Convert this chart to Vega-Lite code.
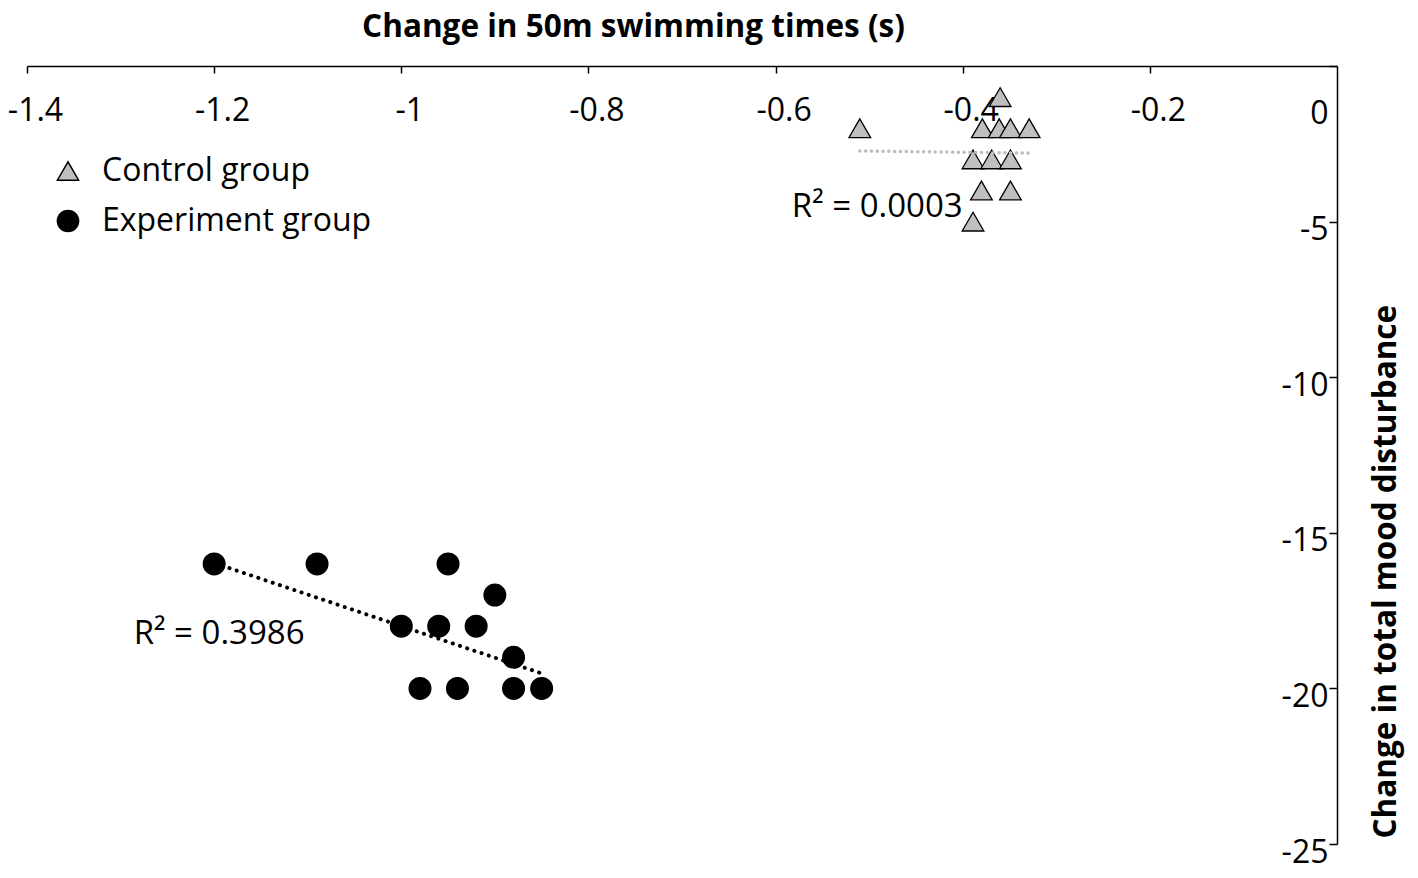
{
  "$schema": "https://vega.github.io/schema/vega-lite/v6.json",
  "description": "Change in 50m swimming times vs change in total mood disturbance, control vs experiment group",
  "width": 1310,
  "height": 778,
  "autosize": "none",
  "padding": {"left": 27, "top": 66, "right": 81, "bottom": 34},
  "background": "white",
  "datasets": {
    "points": [
      {"x": -0.36, "y": -1, "group": "Control group"},
      {"x": -0.51, "y": -2, "group": "Control group"},
      {"x": -0.379, "y": -2, "group": "Control group"},
      {"x": -0.361, "y": -2, "group": "Control group"},
      {"x": -0.349, "y": -2, "group": "Control group"},
      {"x": -0.329, "y": -2, "group": "Control group"},
      {"x": -0.389, "y": -3, "group": "Control group"},
      {"x": -0.369, "y": -3, "group": "Control group"},
      {"x": -0.349, "y": -3, "group": "Control group"},
      {"x": -0.38, "y": -4, "group": "Control group"},
      {"x": -0.349, "y": -4, "group": "Control group"},
      {"x": -0.389, "y": -5, "group": "Control group"},
      {"x": -1.2, "y": -16, "group": "Experiment group"},
      {"x": -1.09, "y": -16, "group": "Experiment group"},
      {"x": -0.95, "y": -16, "group": "Experiment group"},
      {"x": -0.9, "y": -17, "group": "Experiment group"},
      {"x": -1.0, "y": -18, "group": "Experiment group"},
      {"x": -0.96, "y": -18, "group": "Experiment group"},
      {"x": -0.92, "y": -18, "group": "Experiment group"},
      {"x": -0.88, "y": -19, "group": "Experiment group"},
      {"x": -0.98, "y": -20, "group": "Experiment group"},
      {"x": -0.94, "y": -20, "group": "Experiment group"},
      {"x": -0.88, "y": -20, "group": "Experiment group"},
      {"x": -0.85, "y": -20, "group": "Experiment group"}
    ],
    "trend": [
      {"x": -0.51, "y": -2.73, "group": "Control group"},
      {"x": -0.328, "y": -2.8, "group": "Control group"},
      {"x": -1.199, "y": -15.98, "group": "Experiment group"},
      {"x": -0.847, "y": -19.55, "group": "Experiment group"}
    ]
  },
  "layer": [
    {
      "data": {"name": "points"},
      "mark": {"type": "point", "filled": true, "size": 470, "stroke": "#000", "strokeWidth": 1.3, "opacity": 1},
      "encoding": {
        "x": {
          "field": "x",
          "type": "quantitative",
          "scale": {"domain": [-1.4, 0], "nice": false, "zero": false},
          "axis": {
            "orient": "bottom",
            "offset": -778,
            "values": [-1.4, -1.2, -1, -0.8, -0.6, -0.4, -0.2],
            "labelExpr": "'' + datum.value",
            "grid": false,
            "domainColor": "#000",
            "domainWidth": 1.5,
            "tickColor": "#000",
            "tickWidth": 1.5,
            "tickSize": 7,
            "labelPadding": 22,
            "labelFontSize": 32,
            "labelFont": "Open Sans",
            "labelColor": "#000",
            "labelOffset": 8,
            "labelFlush": false,
            "labelOverlap": false,
            "title": "Change in 50m swimming times (s)",
            "titleFont": "Open Sans",
            "titleFontSize": 31.5,
            "titleFontWeight": "bold",
            "titleColor": "#000",
            "titleX": 606,
            "titleY": -30,
            "titleAlign": "center",
            "titleBaseline": "alphabetic",
            "titleAngle": 0
          }
        },
        "y": {
          "field": "y",
          "type": "quantitative",
          "scale": {"domain": [-25, 0], "nice": false, "zero": false},
          "axis": {
            "orient": "left",
            "offset": -1310,
            "values": [0, -5, -10, -15, -20, -25],
            "labelExpr": "'' + datum.value",
            "grid": false,
            "domainColor": "#000",
            "domainWidth": 1.5,
            "tickColor": "#000",
            "tickWidth": 1.5,
            "tickSize": 8,
            "labelPadding": 1,
            "labelFontSize": 32,
            "labelFont": "Open Sans",
            "labelColor": "#000",
            "labelOffset": {"condition": {"test": "datum.value === 0", "value": 47}, "value": 8},
            "labelFlush": false,
            "labelOverlap": false,
            "title": "Change in total mood disturbance",
            "titleFont": "Open Sans",
            "titleFontSize": 31.5,
            "titleFontWeight": "bold",
            "titleColor": "#000",
            "titleAngle": 270,
            "titleAlign": "left",
            "titleBaseline": "alphabetic",
            "titleX": 58,
            "titleY": 772
          }
        },
        "shape": {
          "field": "group",
          "type": "nominal",
          "scale": {"domain": ["Control group", "Experiment group"], "range": ["triangle-up", "circle"]},
          "legend": {
            "orient": "none",
            "legendX": 25,
            "legendY": 89,
            "title": null,
            "padding": 0,
            "labelFont": "Open Sans",
            "labelFontSize": 32,
            "labelColor": "#000",
            "labelLimit": 500,
            "labelOffset": 18,
            "symbolSize": 450,
            "rowPadding": 18,
            "encode": {"symbols": {"update": {"stroke": {"value": "#000"}, "strokeWidth": {"value": 1.3}}}}
          }
        },
        "fill": {
          "field": "group",
          "type": "nominal",
          "scale": {"domain": ["Control group", "Experiment group"], "range": ["#BFBFBF", "#000000"]},
          "legend": {
            "orient": "none",
            "legendX": 25,
            "legendY": 89,
            "title": null,
            "padding": 0,
            "labelFont": "Open Sans",
            "labelFontSize": 32,
            "labelColor": "#000",
            "labelLimit": 500,
            "labelOffset": 18,
            "symbolSize": 450,
            "rowPadding": 18,
            "encode": {"symbols": {"update": {"stroke": {"value": "#000"}, "strokeWidth": {"value": 1.3}}}}
          }
        }
      }
    },
    {
      "data": {"name": "trend"},
      "transform": [{"filter": "datum.group === 'Control group'"}],
      "mark": {"type": "line", "color": "#BDBDBD", "strokeWidth": 3.5, "strokeDash": [0.1, 5.7], "strokeCap": "round"},
      "encoding": {
        "x": {"field": "x", "type": "quantitative"},
        "y": {"field": "y", "type": "quantitative"}
      }
    },
    {
      "data": {"name": "trend"},
      "transform": [{"filter": "datum.group === 'Experiment group'"}],
      "mark": {"type": "line", "color": "#000", "strokeWidth": 4, "strokeDash": [0.1, 7.5], "strokeCap": "round"},
      "encoding": {
        "x": {"field": "x", "type": "quantitative"},
        "y": {"field": "y", "type": "quantitative"}
      }
    },
    {
      "data": {"values": [{"x": -0.4, "y": -4.53, "label": "R² = 0.0003"}]},
      "mark": {"type": "text", "align": "right", "baseline": "middle", "font": "Open Sans", "fontSize": 33, "color": "#000"},
      "encoding": {
        "x": {"field": "x", "type": "quantitative"},
        "y": {"field": "y", "type": "quantitative"},
        "text": {"field": "label", "type": "nominal"}
      }
    },
    {
      "data": {"values": [{"x": -1.286, "y": -18.25, "label": "R² = 0.3986"}]},
      "mark": {"type": "text", "align": "left", "baseline": "middle", "font": "Open Sans", "fontSize": 33, "color": "#000"},
      "encoding": {
        "x": {"field": "x", "type": "quantitative"},
        "y": {"field": "y", "type": "quantitative"},
        "text": {"field": "label", "type": "nominal"}
      }
    }
  ],
  "config": {
    "view": {"stroke": null},
    "font": "Open Sans"
  }
}
